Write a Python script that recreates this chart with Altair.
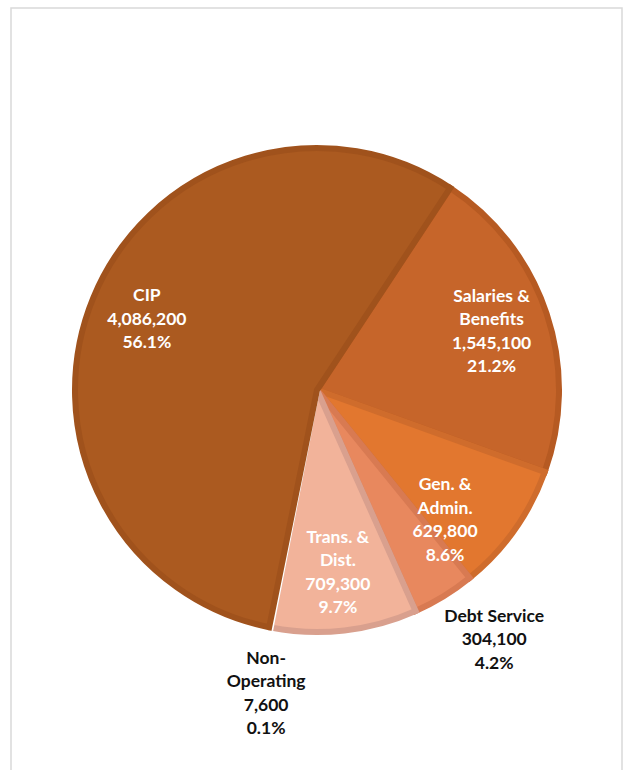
import altair as alt
import pandas as pd

categories = ["Salaries & Benefits", "Gen. & Admin.", "Debt Service", "Trans. & Dist.", "Non-Operating", "CIP"]
label_names = ["Salaries &\nBenefits", "Gen. &\nAdmin.", "Debt Service", "Trans. &\nDist.", "Non-\nOperating", "CIP"]
values = [1545100, 629800, 304100, 709300, 7600, 4086200]
percents = [21.2, 8.6, 4.2, 9.7, 0.1, 56.1]
outside_labels = ["Debt Service", "Non-Operating"]

fill_colors = ["#C6652A", "#E2772F", "#E8885E", "#F2B39A", "#FBE9E1", "#AB5A20"]
stroke_colors = ["#B65A22", "#CF6C2C", "#D87A52", "#D9A08E", "#FFFFFF", "#A0521C"]
stroke_widths = [6, 6, 6, 6, 1, 6]

# small label nudges (pixels), like Excel's best-fit placement
label_nudge = {"Gen. & Admin.": (-22, 24), "Debt Service": (16, -12), "Non-Operating": (9, 2)}

df = pd.DataFrame({
    "category": categories,
    "value": values,
    "ord": list(range(len(categories))),
})
df["label"] = [f"{n}\n{v:,}\n{p:.1f}%" for n, v, p in zip(label_names, values, percents)]
df["pos"] = ["out" if c in outside_labels else "in" for c in categories]

start = 0.583
theta_scale = alt.Scale(domain=[0, 1], range=[start, start + 2 * 3.141592653589793])
radius_scale = alt.Scale(type="ordinal", domain=["in", "out"], range=[184, 308])

cx, cy = 306, 382
line_h = 23.5

base = alt.Chart(df).transform_window(
    cum="sum(value)", sort=[alt.SortField("ord")], frame=[None, 0]
).transform_joinaggregate(
    total="sum(value)"
).transform_calculate(
    f0="(datum.cum - datum.value) / datum.total",
    f1="datum.cum / datum.total",
    fm="(datum.cum - datum.value / 2) / datum.total",
).encode(
    x=alt.value(cx),
    y=alt.value(cy),
)

arcs = base.mark_arc(radius=242).encode(
    theta=alt.Theta("f0:Q", scale=theta_scale),
    theta2="f1:Q",
    fill=alt.Fill("category:N", scale=alt.Scale(domain=categories, range=fill_colors), legend=None),
    stroke=alt.Stroke("category:N", scale=alt.Scale(domain=categories, range=stroke_colors), legend=None),
    strokeWidth=alt.StrokeWidth("category:N", scale=alt.Scale(domain=categories, range=stroke_widths), legend=None),
)

layers = [arcs]
for cat, lab in zip(categories, df["label"]):
    n_lines = lab.count("\n") + 1
    ndx, ndy = label_nudge.get(cat, (0, 0))
    outside = cat in outside_labels
    layers.append(
        base.transform_filter(alt.datum.category == cat).mark_text(
            lineBreak="\n", font="Lato", fontSize=17.5, fontWeight="bold",
            lineHeight=line_h, align="center", baseline="middle",
            dx=ndx, dy=-(n_lines - 1) / 2 * line_h + ndy,
            color="#111111" if outside else "#FFFFFF",
        ).encode(
            theta=alt.Theta("fm:Q", scale=theta_scale),
            radius=alt.Radius("pos:N", scale=radius_scale),
            text="label:N",
        )
    )

chart = alt.layer(*layers).properties(
    width=611, height=775,
    padding={"left": 11, "top": 8, "right": 6, "bottom": 0},
    autosize=alt.AutoSizeParams(type="none"),
    background="white",
).configure_view(stroke="#D9D9D9", strokeWidth=1.5)

chart.save("out.html", embed_options={"renderer": "svg", "actions": False})
